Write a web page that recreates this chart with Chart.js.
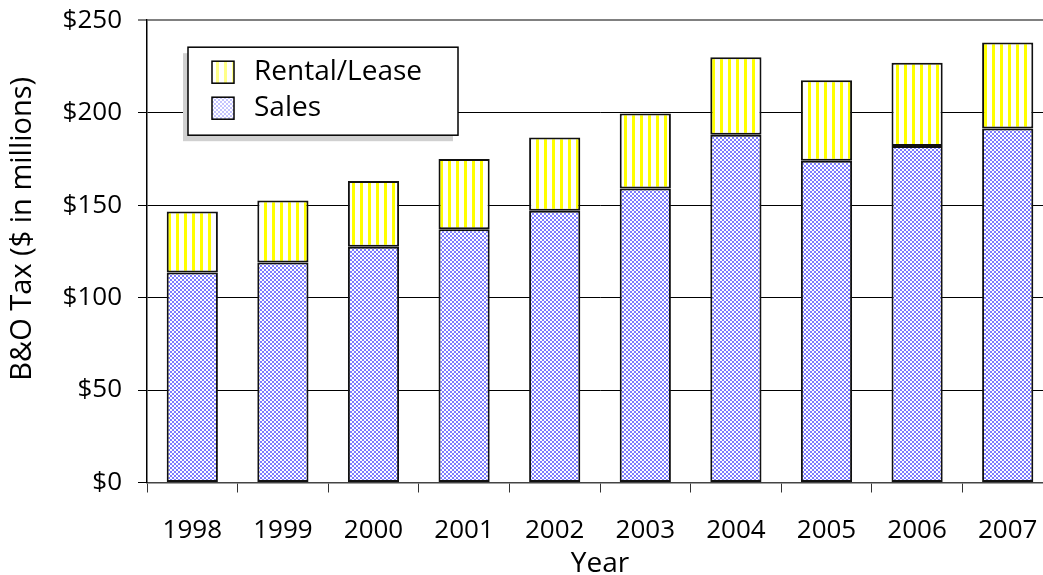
<!DOCTYPE html>
<html><head><meta charset="utf-8">
<script src="https://cdn.jsdelivr.net/npm/chart.js@4"></script>
<style>
html,body{margin:0;padding:0;background:#fff;overflow:hidden}
#wrap{position:relative;width:1043px;height:575px;overflow:hidden;background:#fff}
#c{position:absolute;left:0;top:-23px}
</style></head><body>
<div id="wrap"><canvas id="c" width="1060" height="605"></canvas></div>
<script>
// ---- data ----
const chartTitle = 'B&O Tax from Sales and Rentals, Leases for Taxpayers Using the Exemption';
const years = ['1998','1999','2000','2001','2002','2003','2004','2005','2006','2007'];
const salesValues  = [113.5, 119, 127.5, 137, 147, 159, 188, 174, 182, 191.5];
const rentalValues = [33, 33.5, 35.5, 38, 39.5, 40.5, 42, 43.5, 45, 46.5];
const yTickValues = [0, 50, 100, 150, 200, 250];
const yAxisTitle = 'B&O Tax ($ in millions)';
const xAxisTitle = 'Year';
const seriesNames = ['Sales', 'Rental/Lease'];

const FONT = "'Open Sans', 'DejaVu Sans', sans-serif";

function makePattern(w, h, draw) {
  const c = document.createElement('canvas');
  c.width = w; c.height = h;
  const g = c.getContext('2d');
  draw(g);
  return document.getElementById('c').getContext('2d').createPattern(c, 'repeat');
}
function checker(blue) {
  return makePattern(4, 4, g => {
    g.fillStyle = '#ffffff'; g.fillRect(0, 0, 4, 4);
    g.fillStyle = blue; g.fillRect(0, 0, 2, 2); g.fillRect(2, 2, 2, 2);
  });
}
function stripes(yellow) {
  return makePattern(8, 1, g => {
    g.fillStyle = '#ffffff'; g.fillRect(0, 0, 8, 1);
    g.fillStyle = yellow; g.fillRect(0, 0, 3, 1);
  });
}

const boxLegend = {
  id: 'boxLegend',
  afterDatasetsDraw(chart) {
    const ctx = chart.ctx, a = chart.chartArea;
    const bx = a.left + 41, by = a.top + 27, bw = 270, bh = 88;
    ctx.save();
    ctx.fillStyle = '#d0d0d0';
    ctx.fillRect(bx - 5, by + 6, bw, bh);
    ctx.fillStyle = '#fff';
    ctx.fillRect(bx, by, bw, bh);
    ctx.lineWidth = 1.5; ctx.strokeStyle = '#000';
    ctx.strokeRect(bx, by, bw, bh);
    const items = chart.data.datasets.slice().reverse();
    ctx.font = '28px ' + FONT;
    ctx.textBaseline = 'middle';
    ctx.textAlign = 'left';
    items.forEach((ds, i) => {
      const sy = by + 14 + i * 36;
      ctx.fillStyle = ds.legendFill;
      ctx.fillRect(bx + 24, sy, 22, 22);
      ctx.strokeStyle = '#000'; ctx.lineWidth = 1.5;
      ctx.strokeRect(bx + 24, sy, 22, 22);
      ctx.fillStyle = '#000';
      ctx.fillText(ds.label, bx + 66, sy + 11);
    });
    ctx.restore();
  }
};

function build() {
  new Chart(document.getElementById('c'), {
    type: 'bar',
    data: {
      labels: years,
      datasets: [
        { label: seriesNames[0], data: salesValues, backgroundColor: checker('#7d7dff'),
          legendFill: checker('#c4c4ff'),
          borderColor: '#111', borderWidth: 2, borderSkipped: false,
          barPercentage: 0.565, categoryPercentage: 1 },
        { label: seriesNames[1], data: rentalValues, backgroundColor: stripes('#ffff00'),
          legendFill: stripes('#ffff88'),
          borderColor: '#111', borderWidth: 2, borderSkipped: false,
          barPercentage: 0.565, categoryPercentage: 1 }
      ]
    },
    options: {
      responsive: false,
      animation: false,
      devicePixelRatio: 1,
      layout: { padding: { left: 0, right: 7, top: 0, bottom: 0 } },
      plugins: {
        legend: { display: false },
        tooltip: { enabled: false },
        title: { display: true, text: chartTitle, color: '#000',
          font: { family: FONT, size: 26, weight: 'normal', lineHeight: 0.7 },
          padding: { top: 0, bottom: 25 } }
      },
      scales: {
        x: {
          stacked: true,
          grid: { offset: true, drawOnChartArea: false, drawTicks: true, tickLength: 10, color: '#333', lineWidth: 1 },
          border: { display: true, color: '#444', width: 1.5 },
          ticks: { color: '#000', font: { family: FONT, size: 26 }, padding: 22, maxRotation: 0 },
          title: { display: true, text: xAxisTitle, color: '#000', font: { family: FONT, size: 28 }, padding: { top: 0, bottom: 1 } },
          afterFit(s) { s.height = 99.5; }
        },
        y: {
          stacked: true,
          min: yTickValues[0], max: yTickValues[yTickValues.length - 1],
          afterBuildTicks(s) { s.ticks = yTickValues.map(v => ({ value: v })); },
          grid: {
            color: c => (c.tick && c.tick.value === 250) ? '#808080' : '#000',
            lineWidth: c => (c.tick && c.tick.value === 250) ? 2 : 1,
            tickLength: 9
          },
          border: { display: true, color: '#000', width: 1.5 },
          ticks: { color: '#000', font: { family: FONT, size: 26 }, padding: 16,
            callback: v => '$' + v },
          title: { display: true, text: '      ' + yAxisTitle, color: '#000', font: { family: FONT, size: 29 }, padding: { top: 5, bottom: 0 } },
          afterFit(s) { s.width = 147; }
        }
      }
    },
    plugins: [boxLegend]
  });
}
(document.fonts && document.fonts.load ? document.fonts.load("26px 'Open Sans'") : Promise.resolve()).then(build, build);
</script>
</body></html>
